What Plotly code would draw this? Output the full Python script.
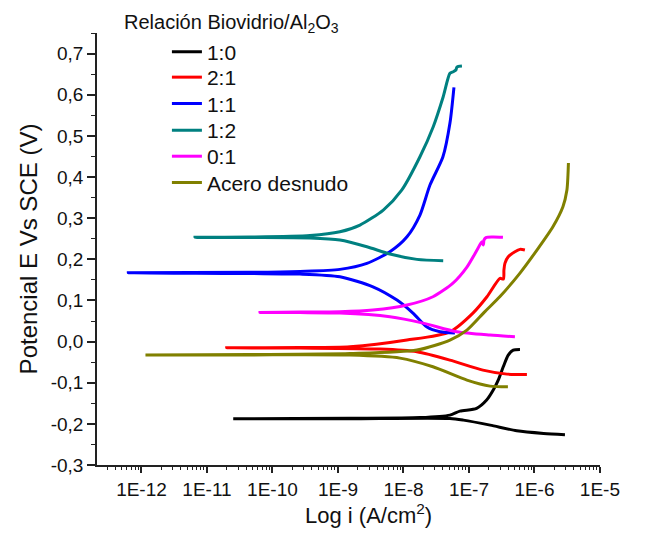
import numpy as np
import plotly.graph_objects as go

# ---- data: log10 of current density (A/cm2) and potential E (V vs SCE)
series_names = ["1:0", "2:1", "1:1", "1:2", "0:1", "Acero desnudo"]
series_colors = ["#000000", "#FF0000", "#0000FF", "#008080", "#FF00FF", "#808000"]

logi_1_0 = [-5.534, -5.86, -6.27, -6.676, -7.085, -7.29, -8.817, -10.599, -8.817, -7.748,
            -7.29, -7.138, -6.883, -6.73, -6.629, -6.553, -6.476, -6.4, -6.324, -6.221]
E_1_0 = [-0.2262, -0.2233, -0.2169, -0.2031, -0.1909, -0.1868, -0.1873, -0.1878, -0.1865, -0.1848,
         -0.1788, -0.169, -0.1625, -0.1423, -0.118, -0.0937, -0.0613, -0.0329, -0.0207, -0.019]

logi_2_1 = [-6.115, -6.42, -6.787, -7.29, -7.794, -8.358, -9.58, -10.699, -9.58, -8.817, -7.946,
            -7.29, -6.939, -6.725, -6.526, -6.474, -6.466, -6.451, -6.4, -6.298, -6.221, -6.146]
E_2_1 = [-0.0803, -0.0791, -0.0694, -0.045, -0.0249, -0.0183, -0.0159, -0.0151, -0.0147, -0.0127, 0.0036,
         0.0238, 0.0692, 0.1089, 0.1536, 0.1519, 0.1738, 0.19, 0.2061, 0.2183, 0.2241, 0.2224]

logi_1_1 = [-7.214, -7.443, -7.641, -7.855, -8.099, -8.466, -8.97, -9.58, -10.344, -12.201, -10.344,
            -9.58, -8.97, -8.558, -8.207, -7.946, -7.748, -7.595, -7.397, -7.29, -7.229]
E_1_1 = [0.0206, 0.0238, 0.0352, 0.0692, 0.1008, 0.1332, 0.1575, 0.164, 0.1653, 0.1672, 0.1682,
         0.1706, 0.1755, 0.19, 0.2183, 0.2547, 0.3075, 0.3804, 0.4492, 0.5312, 0.618]

logi_1_2 = [-7.393, -7.794, -8.207, -8.558, -8.97, -9.427, -10.344, -11.183, -10.344, -9.427, -8.97,
            -8.664, -8.308, -8.027, -7.748, -7.545, -7.393, -7.29, -7.24, -7.199, -7.184, -7.107]
E_1_2 = [0.1964, 0.1998, 0.2127, 0.2304, 0.2467, 0.2516, 0.2528, 0.2533, 0.254, 0.2577, 0.2669,
         0.2832, 0.3197, 0.368, 0.4492, 0.5222, 0.5951, 0.652, 0.6559, 0.66, 0.6673, 0.6698]

logi_0_1 = [-6.298, -6.679, -7.184, -7.702, -8.207, -8.97, -9.58, -10.191, -9.58, -8.97, -8.466,
            -7.946, -7.55, -7.244, -7.031, -6.877, -6.802, -6.779, -6.771, -6.741, -6.633, -6.481]
E_0_1 = [0.0116, 0.0157, 0.0238, 0.0449, 0.0602, 0.0692, 0.0704, 0.0709, 0.0717, 0.0724, 0.0765,
         0.0887, 0.1089, 0.1422, 0.1811, 0.2224, 0.2426, 0.2346, 0.2467, 0.2528, 0.254, 0.2533]

logi_acero = [-6.405, -6.679, -7.031, -7.55, -8.053, -8.817, -10.344, -11.939, -10.344, -8.817, -7.794,
              -7.29, -7.031, -6.756, -6.526, -6.221, -5.962, -5.718, -5.565, -5.504, -5.488, -5.481]
E_acero = [-0.11, -0.1083, -0.0937, -0.0613, -0.0402, -0.0329, -0.0324, -0.0329, -0.0317, -0.0292, -0.0207,
           0.0036, 0.0279, 0.0729, 0.1094, 0.1665, 0.2224, 0.2791, 0.3277, 0.3683, 0.4048, 0.4339]

x_tick_vals = [1e-12, 1e-11, 1e-10, 1e-9, 1e-8, 1e-7, 1e-6, 1e-5]
x_tick_text = ["1E-12", "1E-11", "1E-10", "1E-9", "1E-8", "1E-7", "1E-6", "1E-5"]
y_tick_vals = [-0.3, -0.2, -0.1, 0.0, 0.1, 0.2, 0.3, 0.4, 0.5, 0.6, 0.7]
y_tick_text = ["-0,3", "-0,2", "-0,1", "0,0", "0,1", "0,2", "0,3", "0,4", "0,5", "0,6", "0,7"]

all_logi = [logi_1_0, logi_2_1, logi_1_1, logi_1_2, logi_0_1, logi_acero]
all_E = [E_1_0, E_2_1, E_1_1, E_1_2, E_0_1, E_acero]

FONT = "Liberation Sans, Arial, sans-serif"
legend_rows = [0.956, 0.897, 0.836, 0.774, 0.714, 0.653]

fig = go.Figure()
legend_ids = ["legend", "legend2", "legend3", "legend4", "legend5", "legend6"]
for k in range(6):
    fig.add_trace(go.Scatter(
        x=10 ** np.array(all_logi[k]), y=all_E[k], mode="lines", name=series_names[k],
        line=dict(color=series_colors[k], width=3, shape="spline", smoothing=0.7),
        legend=legend_ids[k]))

layout_legends = {}
for k in range(6):
    layout_legends[legend_ids[k]] = dict(
        x=0.139, y=legend_rows[k], xanchor="left", yanchor="middle",
        bgcolor="rgba(0,0,0,0)", borderwidth=0, itemwidth=30,
        font=dict(family=FONT, size=21, color="#111111"))

fig.update_layout(
    width=655, height=540,
    margin=dict(l=97, r=55, t=33, b=75),
    paper_bgcolor="white", plot_bgcolor="white",
    font=dict(family=FONT, color="#111111"),
    showlegend=True,
    **layout_legends,
    annotations=[
        dict(text="Relación Biovidrio/Al<sub>2</sub>O<sub>3</sub>", xref="paper", yref="paper",
             x=0.0497, y=1.023, xanchor="left", yanchor="middle", showarrow=False,
             font=dict(family=FONT, size=20, color="#111111")),
        dict(text="Log i (A/cm<sup>2</sup>)", xref="paper", yref="paper",
             x=0.539, y=-0.114, xanchor="center", yanchor="middle", showarrow=False,
             font=dict(family=FONT, size=22, color="#111111")),
    ],
)

fig.update_xaxes(
    type="log", range=[-12.679, -4.999], showgrid=False, zeroline=False,
    showline=True, linecolor="#222222", linewidth=1.5,
    tickmode="array", tickvals=x_tick_vals, ticktext=x_tick_text,
    ticks="outside", ticklen=6, tickwidth=1.5, tickcolor="#222222",
    ticklabeloverflow="allow",
    tickfont=dict(family=FONT, size=19, color="#111111"),
    minor=dict(tickmode="linear", dtick="D1", ticks="outside", ticklen=3.5, tickwidth=1.2,
               tickcolor="#222222", showgrid=False),
)
fig.update_yaxes(
    range=[-0.3, 0.75], showgrid=False, zeroline=False,
    showline=True, linecolor="#222222", linewidth=1.5,
    tickmode="array", tickvals=y_tick_vals, ticktext=y_tick_text,
    ticks="outside", ticklen=8, tickwidth=1.5, tickcolor="#222222",
    tickfont=dict(family=FONT, size=19, color="#111111"),
    minor=dict(tickmode="linear", tick0=0, dtick=0.05, ticks="outside", ticklen=4, tickwidth=1.2,
               tickcolor="#222222", showgrid=False),
    title=dict(text="Potencial E Vs SCE (V)", font=dict(family=FONT, size=24, color="#111111"),
               standoff=6),
)

fig.write_html("out.html")
